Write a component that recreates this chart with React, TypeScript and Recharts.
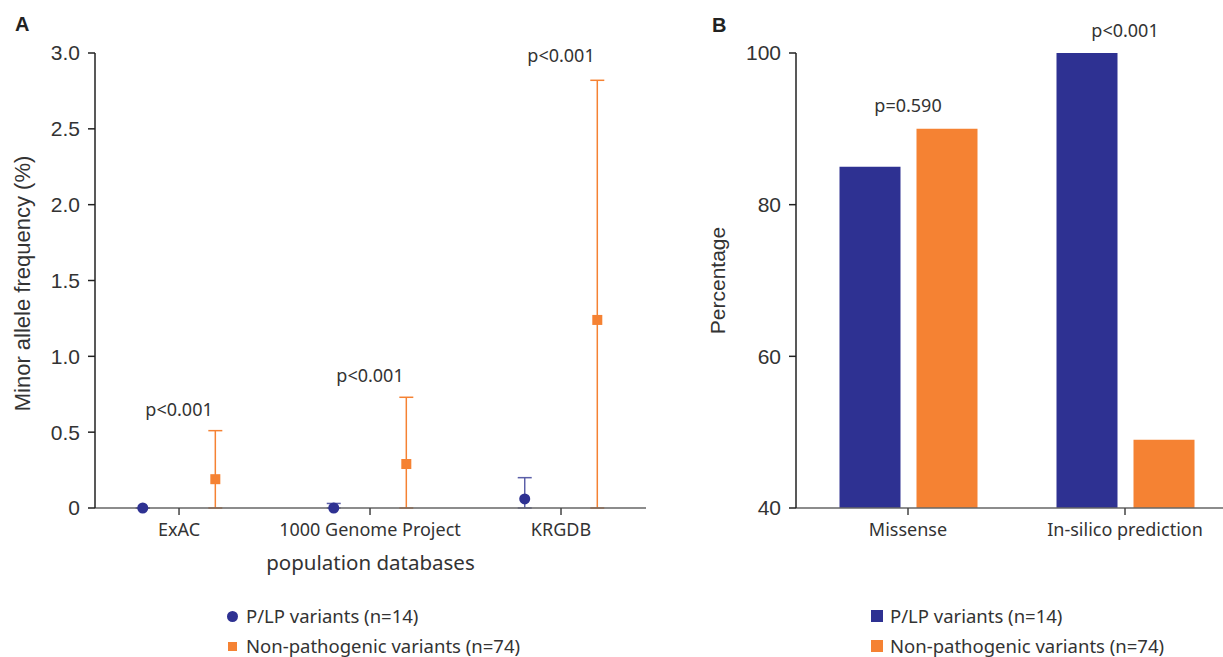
import React from "react"
import {
  Bar,
  BarChart,
  ErrorBar,
  Label,
  ReferenceDot,
  Scatter,
  ScatterChart,
  XAxis,
  YAxis,
} from "recharts"

// panel A: minor allele frequency (%) per population database
const databases = ["ExAC", "1000 Genome Project", "KRGDB"]
const plpMean = [0, 0, 0.06]
const plpLower = [0, 0, 0]
const plpUpper = [0, 0.03, 0.2]
const nonMean = [0.19, 0.29, 1.24]
const nonLower = [0, 0, 0]
const nonUpper = [0.51, 0.73, 2.82]
const pValuesA = ["p<0.001", "p<0.001", "p<0.001"]
const pLabelYA = [0.65, 0.87, 2.98]
const mafTicks = [0, 0.5, 1, 1.5, 2, 2.5, 3]

// panel B: percentage of missense / in-silico damaging
const features = ["Missense", "In-silico prediction"]
const plpPct = [85, 100]
const nonPct = [90, 49]
const pValuesB = ["p=0.590", "p<0.001"]
const pLabelYB = [93, 103]
const pctTicks = [40, 60, 80, 100]

const seriesNames = ["P/LP variants (n=14)", "Non-pathogenic variants (n=74)"]

const NAVY = "#2e3192"
const NAVY_LIGHT = "#5b5fa8"
const ORANGE = "#f58233"
const TEXT = "#333"
const ARIAL = "'Liberation Sans', Arial, sans-serif"
const HUMAN = "'Noto Sans', 'Open Sans', sans-serif"
const OFFSET = 0.19

const plpData = databases.map((d, i) => ({
  name: d,
  x: i - OFFSET,
  y: plpMean[i],
  err: [plpMean[i] - plpLower[i], plpUpper[i] - plpMean[i]],
}))
const nonData = databases.map((d, i) => ({
  name: d,
  x: i + OFFSET,
  y: nonMean[i],
  err: [nonMean[i] - nonLower[i], nonUpper[i] - nonMean[i]],
}))
const barData = features.map((f, i) => ({ name: f, plp: plpPct[i], non: nonPct[i] }))

const PlpDot = (props: any) => <circle cx={props.cx} cy={props.cy} r={5.5} fill={NAVY} />
const NonDot = (props: any) => (
  <rect x={props.cx - 5} y={props.cy - 5} width={10} height={10} fill={ORANGE} />
)

const yTick = { fill: TEXT, fontSize: 21, fontFamily: ARIAL }
const xTick = { fill: TEXT, fontSize: 18, fontFamily: HUMAN }
const pStyle = { fill: TEXT, fontSize: 18, fontFamily: HUMAN }

function LegendBox({ left, circle }: { left: number; circle: boolean }) {
  const colors = [NAVY, ORANGE]
  return (
    <div style={{ position: "absolute", left, top: 604, fontFamily: HUMAN, fontSize: 18.5, color: TEXT, lineHeight: "24px" }}>
      {seriesNames.map((n, i) => (
        <div key={n} style={{ display: "flex", alignItems: "center", height: 24, marginBottom: i === 0 ? 6 : 0 }}>
          <span
            style={{
              display: "inline-block",
              flex: "none",
              width: circle ? (i === 0 ? 11 : 9) : 12,
              height: circle ? (i === 0 ? 11 : 9) : 12,
              borderRadius: circle && i === 0 ? "50%" : 0,
              background: colors[i],
              marginLeft: circle && i === 1 ? 1 : 0,
              marginRight: circle ? (i === 0 ? 8 : 9) : 7,
            }}
          />
          {n}
        </div>
      ))}
    </div>
  )
}

export default function App() {
  return (
    <div style={{ position: "absolute", left: 0, top: 0, width: 1223, height: 657, overflow: "hidden", background: "#fff" }}>
      <div style={{ position: "absolute", left: 15, top: 14, fontFamily: ARIAL, fontWeight: 700, fontSize: 20, lineHeight: "20px", color: "#222" }}>A</div>
      <div style={{ position: "absolute", left: 712, top: 15, fontFamily: ARIAL, fontWeight: 700, fontSize: 20, lineHeight: "20px", color: "#222" }}>B</div>

      <div style={{ position: "absolute", left: 0, top: 0 }}>
        <ScatterChart width={660} height={657} margin={{ top: 53, right: 14, bottom: 0, left: 0 }}>
          <XAxis
            type="number"
            dataKey="x"
            domain={[-0.44, 2.445]}
            allowDataOverflow
            ticks={[0, 1, 2]}
            tickFormatter={(v: number) => databases[v] ?? ""}
            height={149}
            tickSize={7}
            tickMargin={8}
            tick={xTick}
            axisLine={{ stroke: "#666", strokeWidth: 1.5 }}
            tickLine={{ stroke: "#444", strokeWidth: 1.5 }}
          >
            <Label value="population databases" position="insideTop" offset={47} style={{ fill: TEXT, fontSize: 20.5, fontFamily: HUMAN }} />
          </XAxis>
          <YAxis
            type="number"
            dataKey="y"
            domain={[0, 3]}
            ticks={mafTicks}
            tickFormatter={(v: number) => (v === 0 ? "0" : v.toFixed(1))}
            width={95}
            tickSize={7}
            tickMargin={8}
            tick={yTick}
            axisLine={{ stroke: "#222", strokeWidth: 1.5 }}
            tickLine={{ stroke: "#222", strokeWidth: 1.5 }}
          >
            <Label value="Minor allele frequency (%)" angle={-90} position="center" dx={-25} dy={3} style={{ fill: TEXT, fontSize: 22, fontFamily: ARIAL }} />
          </YAxis>
          <Scatter name={seriesNames[0]} data={plpData} fill={NAVY} shape={PlpDot} isAnimationActive={false}>
            <ErrorBar dataKey="err" direction="y" width={7} stroke={NAVY_LIGHT} strokeWidth={1.5} isAnimationActive={false} />
          </Scatter>
          <Scatter name={seriesNames[1]} data={nonData} fill={ORANGE} shape={NonDot} isAnimationActive={false}>
            <ErrorBar dataKey="err" direction="y" width={7} stroke={ORANGE} strokeWidth={1.5} isAnimationActive={false} />
          </Scatter>
          {databases.map((d, i) => (
            <ReferenceDot
              key={d}
              x={i}
              y={pLabelYA[i]}
              r={0}
              stroke="none"
              fill="none"
              ifOverflow="visible"
              label={{ value: pValuesA[i], position: "center", style: pStyle }}
            />
          ))}
        </ScatterChart>
      </div>

      <div style={{ position: "absolute", left: 690, top: 0 }}>
        <BarChart width={560} height={657} data={barData} margin={{ top: 53, right: 16.5, bottom: 0, left: 0 }} barSize={61} barGap={16}>
          <XAxis
            dataKey="name"
            height={149}
            padding={{ left: 3.5, right: 0 }}
            tickSize={7}
            tickMargin={8}
            tick={xTick}
            axisLine={{ stroke: "#666", strokeWidth: 1.5 }}
            tickLine={{ stroke: "#444", strokeWidth: 1.5 }}
          />
          <YAxis
            domain={[40, 100]}
            ticks={pctTicks}
            width={106}
            tickSize={7}
            tickMargin={8}
            tick={yTick}
            axisLine={{ stroke: "#222", strokeWidth: 1.5 }}
            tickLine={{ stroke: "#222", strokeWidth: 1.5 }}
          >
            <Label value="Percentage" angle={-90} position="center" dx={-25} style={{ fill: TEXT, fontSize: 21, fontFamily: ARIAL }} />
          </YAxis>
          <Bar dataKey="plp" name={seriesNames[0]} fill={NAVY} isAnimationActive={false} />
          <Bar dataKey="non" name={seriesNames[1]} fill={ORANGE} isAnimationActive={false} />
          {features.map((f, i) => (
            <ReferenceDot
              key={f}
              x={f}
              y={pLabelYB[i]}
              r={0}
              stroke="none"
              fill="none"
              ifOverflow="visible"
              label={{ value: pValuesB[i], position: "center", style: pStyle }}
            />
          ))}
        </BarChart>
      </div>

      <LegendBox left={227} circle />
      <LegendBox left={871} circle={false} />
    </div>
  )
}
